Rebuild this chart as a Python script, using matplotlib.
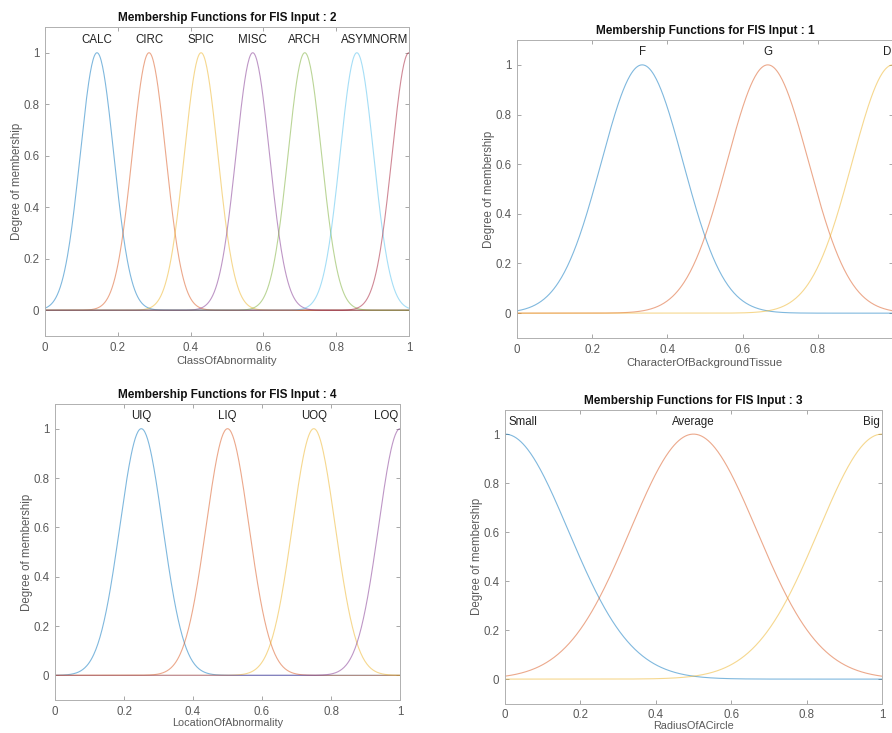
import numpy as np
import matplotlib
matplotlib.use("Agg")
import matplotlib.pyplot as plt

plt.rcParams['font.family'] = ['Liberation Sans', 'DejaVu Sans']

# MATLAB default line colours
matlab_colors = ['#0072BD', '#D95319', '#EDB120', '#7E2F8E', '#77AC30', '#4DBEEE', '#A2142F']

# input 2
class_names = ['CALC', 'CIRC', 'SPIC', 'MISC', 'ARCH', 'ASYM', 'NORM']
class_centers = [0.143, 0.286, 0.429, 0.571, 0.714, 0.857, 1.0]
class_sigma = 0.046

# input 1
tissue_names = ['F', 'G', 'D']
tissue_centers = [0.333, 0.667, 1.0]
tissue_sigma = 0.109

# input 4
location_names = ['UIQ', 'LIQ', 'UOQ', 'LOQ']
location_centers = [0.25, 0.5, 0.75, 1.0]
location_sigma = 0.062

# input 3
radius_names = ['Small', 'Average', 'Big']
radius_centers = [0.0, 0.5, 1.0]
radius_sigma = 0.168

tick_vals = [0, 0.2, 0.4, 0.6, 0.8, 1]
tick_text = ['0', '0.2', '0.4', '0.6', '0.8', '1']

panels = [
    # title, xlabel, names, centers, sigma, axes rect
    ('Membership Functions for FIS Input : 2', 'ClassOfAbnormality',
     class_names, class_centers, class_sigma, [0.0504, 0.5416, 0.408, 0.4216]),
    ('Membership Functions for FIS Input : 1', 'CharacterOfBackgroundTissue',
     tissue_names, tissue_centers, tissue_sigma, [0.5796, 0.5389, 0.4215, 0.4065]),
    ('Membership Functions for FIS Input : 4', 'LocationOfAbnormality',
     location_names, location_centers, location_sigma, [0.0617, 0.045, 0.3868, 0.4038]),
    ('Membership Functions for FIS Input : 3', 'RadiusOfACircle',
     radius_names, radius_centers, radius_sigma, [0.5661, 0.0401, 0.4226, 0.4011]),
]

fig = plt.figure(figsize=(8.92, 7.33), dpi=100)
x = np.linspace(0, 1, 500)
gray = '#5a5a5a'

for k, (title, xlabel, names, centers, sigma, rect) in enumerate(panels):
    ax = fig.add_axes(rect)
    for i, (name, c) in enumerate(zip(names, centers)):
        y = np.exp(-(x - c) ** 2 / (2 * sigma ** 2))
        ax.plot(x, y, color=matlab_colors[i % 7], lw=0.8, alpha=0.5)
        # labels near the edges get aligned inside the box, as MATLAB does
        if c <= 0.0:
            ha, tx = 'left', 0.01
        elif c >= 1.0:
            ha, tx = 'right', 0.995
        else:
            ha, tx = 'center', c
        ax.text(tx, 1.05, name, ha=ha, va='center', fontsize=8.3, color='#222222')
    ax.set_xlim(0, 1)
    ax.set_ylim(-0.1, 1.1)
    ax.set_xticks(tick_vals)
    if k == 1:
        # right end of this panel falls off the picture
        ax.set_xticklabels(tick_text[:-1] + [''])
    else:
        ax.set_xticklabels(tick_text)
    ax.set_yticks(tick_vals)
    ax.set_yticklabels(tick_text)
    ax.tick_params(direction='in', length=3, width=0.6, colors='#999999',
                   labelcolor=gray, labelsize=8.3, top=True, right=True, pad=4)
    for sp in ax.spines.values():
        sp.set_color('#b0b0b0')
        sp.set_linewidth(0.7)
    ax.set_title(title, fontsize=8.5, fontweight='bold', pad=4, color='#111111')
    ax.set_xlabel(xlabel, fontsize=8.2 if k < 2 else 7.8, color=gray,
                  labelpad=2 if k < 2 else 0)
    ax.set_ylabel('Degree of membership', fontsize=8.3, color=gray, labelpad=0)

fig.savefig('out.png', dpi=100)
